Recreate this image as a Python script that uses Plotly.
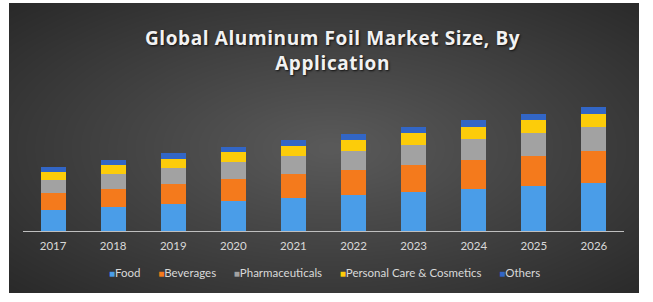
import numpy as np
import plotly.graph_objects as go

years = ["2017", "2018", "2019", "2020", "2021", "2022", "2023", "2024", "2025", "2026"]
food = [21.6, 24.3, 27.6, 30.3, 33.6, 36.3, 39.6, 42.3, 45.6, 48.3]
beverages = [16.7, 18.3, 20.0, 22.0, 24.0, 25.3, 26.7, 29.3, 30.0, 32.0]
pharmaceuticals = [13.3, 15.0, 16.0, 17.0, 18.0, 18.7, 20.3, 20.7, 22.7, 24.0]
personal_care = [8.0, 9.0, 9.0, 9.7, 10.0, 11.3, 12.0, 12.3, 12.7, 13.3]
others = [4.7, 4.7, 5.7, 5.3, 6.0, 6.0, 5.7, 6.7, 6.3, 7.0]

series = [
    ("Food", food, "#4a9de8"),
    ("Beverages", beverages, "#f47a1c"),
    ("Pharmaceuticals", pharmaceuticals, "#a2a2a2"),
    ("Personal Care & Cosmetics", personal_care, "#fccc0a"),
    ("Others", others, "#3266c6"),
]

W, H = 653, 302
px0, px1, py0, py1 = 9, 639, 3, 293

fig = go.Figure()

# radial gradient background
gx = np.linspace(0, 1, 80)
gy = np.linspace(0, 1, 50)
GX, GY = np.meshgrid(gx, gy)
r = np.sqrt(((GX - 0.51) / 0.49) ** 2 + ((GY - 0.5) / 0.5) ** 2) / np.sqrt(2)
zbg = 1 - np.clip(r, 0, 1)
fig.add_trace(go.Heatmap(
    x=gx, y=gy, z=zbg, zsmooth="best", showscale=False, hoverinfo="skip",
    colorscale=[[0, "#2a2a2a"], [1, "#5a5a5a"]], zmin=0, zmax=1,
    xaxis="x", yaxis="y", showlegend=False,
))

for name, vals, col in series:
    fig.add_trace(go.Bar(
        x=years, y=vals, name=name, marker=dict(color=col, line=dict(width=0)),
        xaxis="x2", yaxis="y2", showlegend=False,
    ))

# legend built as a single text line from the series names / colours
gap = "&nbsp;" * 6
legend_text = gap.join(
    f'<span style="color:{col};font-size:10px">■</span>{name}' for name, _, col in series
)

title_lines = ["Global Aluminum Foil Market Size, By", "Application"]
title_text = "<br>".join(
    f'<span style="letter-spacing:0.6px">{t}</span>' for t in title_lines
)

base_y = 231.3
top_y = 100.0
fig.update_layout(
    width=W, height=H,
    margin=dict(l=0, r=0, t=0, b=0),
    paper_bgcolor="white",
    plot_bgcolor="rgba(0,0,0,0)",
    barmode="stack",
    bargap=0.585,
    showlegend=False,
    xaxis=dict(domain=[px0 / W, px1 / W], range=[0, 1], visible=False, fixedrange=True),
    yaxis=dict(domain=[1 - py1 / H, 1 - py0 / H], range=[0, 1], visible=False, fixedrange=True),
    xaxis2=dict(domain=[23 / W, 624 / W], anchor="y2", showline=True, linecolor="#bfbfbf",
                linewidth=1, ticks="", showgrid=False, ticklabelstandoff=4,
                tickfont=dict(family="Lato", size=11.5, color="#d9d9d9")),
    yaxis2=dict(domain=[1 - base_y / H, 1 - top_y / H], anchor="x2", range=[0, base_y - top_y],
                visible=False, showgrid=False, zeroline=False),
    annotations=[
        dict(
            text=title_text,
            x=332 / W, y=1 - 51 / H, xref="paper", yref="paper", showarrow=False,
            xanchor="center", yanchor="middle",
            font=dict(family="Open Sans", size=19, color="#f2f2f2", weight="bold",
                      shadow="1px 1px 2px #111"),
        ),
        dict(
            text=legend_text,
            x=324.5 / W, y=1 - 272 / H, xref="paper", yref="paper", showarrow=False,
            xanchor="center", yanchor="middle",
            font=dict(family="Lato", size=11.5, color="#d9d9d9"),
        ),
    ],
)

fig.write_html("out.html")
